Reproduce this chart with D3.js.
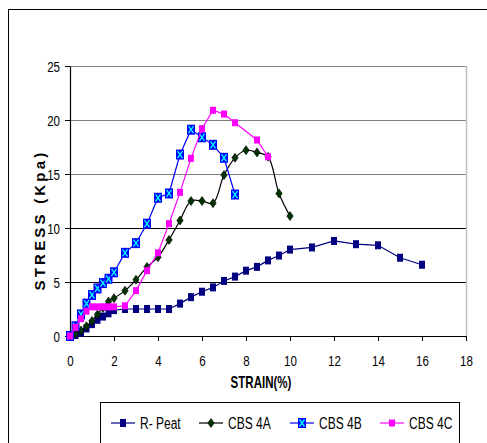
<!DOCTYPE html>
<html lang="en">
<head>
<meta charset="utf-8">
<title>Stress vs strain</title>
<script src="https://cdn.jsdelivr.net/npm/d3@7"></script>
<style>
  body { margin: 0; background: #fff; }
  text { font-family: "Liberation Sans Narrow", "Arial Narrow", "Liberation Sans", Arial, sans-serif; }
</style>
</head>
<body>
<script>
  // data
  var peatStrain = [0, 0.25, 0.5, 0.75, 1, 1.25, 1.5, 1.75, 2, 2.5, 3, 3.5, 4, 4.5, 5, 5.5, 6, 6.5, 7, 7.5, 8, 8.5, 9, 9.5, 10, 11, 12, 13, 14, 15, 16];
  var peatStress = [0, 0.1, 0.3, 0.7, 1.1, 1.5, 1.8, 2.1, 2.4, 2.5, 2.5, 2.5, 2.5, 2.5, 3.0, 3.6, 4.1, 4.5, 5.1, 5.5, 6.05, 6.4, 7.0, 7.45, 8.0, 8.2, 8.8, 8.5, 8.4, 7.25, 6.6];

  var aStrain = [0, 0.25, 0.5, 0.75, 1, 1.25, 1.5, 1.75, 2, 2.5, 3, 3.5, 4, 4.5, 5, 5.5, 6, 6.5, 7, 7.5, 8, 8.5, 9, 9.5, 10];
  var aStress = [0, 0.2, 0.5, 0.9, 1.4, 2.0, 2.6, 3.2, 3.5, 4.2, 5.2, 6.4, 7.3, 8.9, 10.7, 12.5, 12.5, 12.3, 14.9, 16.5, 17.2, 17.0, 16.6, 13.2, 11.1];

  var bStrain = [0, 0.25, 0.5, 0.75, 1, 1.25, 1.5, 1.75, 2, 2.5, 3, 3.5, 4, 4.5, 5, 5.5, 6, 6.5, 7, 7.5];
  var bStress = [0, 0.9, 2.0, 3.0, 3.8, 4.4, 4.9, 5.3, 5.9, 7.7, 8.6, 10.4, 12.8, 13.2, 16.8, 19.1, 18.4, 17.7, 16.5, 13.1];

  var cStrain = [0, 0.25, 0.5, 0.75, 1, 1.25, 1.5, 1.75, 2, 2.5, 3, 3.5, 4, 4.5, 5, 5.5, 6, 6.5, 7, 7.5, 8.5, 9];
  var cStress = [0, 0.8, 1.6, 2.3, 2.7, 2.7, 2.7, 2.7, 2.7, 2.8, 4.2, 6.05, 7.7, 10.4, 13.3, 16.45, 19.2, 20.9, 20.55, 19.75, 18.15, 16.6];

  var xTicks = [0, 2, 4, 6, 8, 10, 12, 14, 16, 18];
  var yTicks = [0, 5, 10, 15, 20, 25];
  var seriesNames = ["R- Peat", "CBS 4A", "CBS 4B", "CBS 4C"];

  function zip(xs, ys) { return xs.map(function(x, i){ return [x, ys[i]]; }); }

  var series = [
    { name: seriesNames[0], pts: zip(peatStrain, peatStress), color: "#000080", marker: "square", curve: d3.curveLinear },
    { name: seriesNames[1], pts: zip(aStrain, aStress), color: "#000000", marker: "diamond", curve: d3.curveCatmullRom },
    { name: seriesNames[2], pts: zip(bStrain, bStress), color: "#0000ff", marker: "xbox", curve: d3.curveLinear },
    { name: seriesNames[3], pts: zip(cStrain, cStress), color: "#ff00ff", marker: "pink", curve: d3.curveLinear }
  ];

  var W = 487, H = 443,
      plot = { left: 70, right: 466, top: 66, bottom: 336 };

  var svg = d3.select("body").append("svg")
      .attr("width", W)
      .attr("height", H);

  // no narrow font installed, so place text at (tx,ty) and condense it by hand
  function narrow(sel, tx, ty, k) {
    sel.attr("x", 0).attr("y", 0)
       .attr("transform", "translate(" + tx + "," + ty + ") scale(" + (k || 0.77) + ",1)");
  }

  // outer chart border (runs off the right / bottom edge)
  svg.append("rect")
      .attr("x", 8.5).attr("y", 9.5)
      .attr("width", 520).attr("height", 520)
      .attr("fill", "none").attr("stroke", "#000");

  var x = d3.scaleLinear().domain([0, 18]).range([plot.left, plot.right]);
  var y = d3.scaleLinear().domain([0, 25]).range([plot.bottom, plot.top]);

  // gridlines
  svg.append("g").selectAll("line")
      .data(yTicks.filter(function(d){ return d > 0; }))
      .enter().append("line")
      .attr("x1", plot.left).attr("x2", plot.right)
      .attr("y1", function(d){ return Math.round(y(d)) + 0.5; })
      .attr("y2", function(d){ return Math.round(y(d)) + 0.5; })
      .attr("stroke", function(d){ return d >= 15 ? "#808080" : "#000"; })
      .attr("stroke-width", 1.2);

  // right border of plot area
  svg.append("line")
      .attr("x1", plot.right + 0.5).attr("x2", plot.right + 0.5)
      .attr("y1", plot.top).attr("y2", plot.bottom)
      .attr("stroke", "#c0c0c0").attr("stroke-width", 1.5);

  var xAxis = svg.append("g")
      .attr("transform", "translate(0," + plot.bottom + ")")
      .call(d3.axisBottom(x).tickValues(xTicks).tickSize(5).tickSizeOuter(0));
  var yAxis = svg.append("g")
      .attr("transform", "translate(" + plot.left + ",0)")
      .call(d3.axisLeft(y).tickValues(yTicks).tickSize(5).tickSizeOuter(0));

  [xAxis, yAxis].forEach(function(g){
    g.select(".domain").attr("stroke", "#000").attr("stroke-width", 1.2);
    g.selectAll(".tick line").attr("stroke", "#000");
    g.selectAll(".tick text")
      .attr("font-family", "Liberation Sans Narrow, Arial Narrow, Liberation Sans, sans-serif")
      .attr("font-size", 15).attr("fill", "#000");
  });
  xAxis.selectAll(".tick text").attr("dy", null).each(function(){ narrow(d3.select(this), 0, 30); });
  yAxis.selectAll(".tick text").attr("dy", null).each(function(){ narrow(d3.select(this), -10, 5.5); });

  // axis titles
  svg.append("text")
      .attr("text-anchor", "middle")
      .attr("font-size", 16).attr("font-weight", "bold")
      .text("STRAIN(%)")
      .call(narrow, 261, 388, 0.72);

  svg.append("text")
      .attr("transform", "translate(45,220) rotate(-90)")
      .attr("text-anchor", "middle")
      .attr("font-size", 15).attr("font-weight", "bold")
      .attr("letter-spacing", "3.2px")
      .text("STRESS (Kpa)");

  function drawMarker(g, type, color) {
    if (type === "square") {
      g.append("rect").attr("x", -3).attr("y", -4).attr("width", 6).attr("height", 8)
        .attr("fill", "#000080");
    } else if (type === "diamond") {
      g.append("path").attr("d", "M0,-4.5L3.2,0L0,4.5L-3.2,0Z")
        .attr("fill", "#003300").attr("stroke", "#000").attr("stroke-width", 0.6);
    } else if (type === "xbox") {
      g.append("rect").attr("x", -4).attr("y", -5).attr("width", 8).attr("height", 10)
        .attr("fill", "#0000ff");
      g.append("path").attr("d", "M-2.5,-3.5L2.5,3.5M2.5,-3.5L-2.5,3.5")
        .attr("stroke", "#00ffff").attr("stroke-width", 1.3).attr("fill", "none");
    } else {
      g.append("rect").attr("x", -3).attr("y", -3.5).attr("width", 6).attr("height", 7)
        .attr("fill", "#ff00ff");
    }
  }

  series.forEach(function(s){
    var line = d3.line()
        .x(function(d){ return x(d[0]); })
        .y(function(d){ return y(d[1]); })
        .curve(s.curve);
    var g = svg.append("g");
    g.append("path")
        .attr("d", line(s.pts))
        .attr("fill", "none")
        .attr("stroke", s.color)
        .attr("stroke-width", 1.2);
    g.selectAll("g.mk")
        .data(s.pts)
        .enter().append("g")
        .attr("class", "mk")
        .attr("transform", function(d){ return "translate(" + x(d[0]) + "," + y(d[1]) + ")"; })
        .each(function(){ drawMarker(d3.select(this), s.marker, s.color); });
  });

  // legend
  svg.append("rect")
      .attr("x", 100.5).attr("y", 402.5)
      .attr("width", 359).attr("height", 80)
      .attr("fill", "#fff").attr("stroke", "#000");

  var legendX = [111, 199, 290, 380];
  var lg = svg.append("g").selectAll("g")
      .data(series)
      .enter().append("g")
      .attr("transform", function(d, i){ return "translate(" + legendX[i] + ",423)"; });
  lg.append("line")
      .attr("x1", 0).attr("x2", 24)
      .attr("stroke", function(d){ return d.color; })
      .attr("stroke-width", 1.2);
  lg.append("g")
      .attr("transform", "translate(12,0)")
      .each(function(d){ drawMarker(d3.select(this), d.marker, d.color); });
  lg.append("text")
      .attr("font-size", 16)
      .text(function(d){ return d.name; })
      .each(function(){ narrow(d3.select(this), 29, 6, 0.75); });
</script>
</body>
</html>
